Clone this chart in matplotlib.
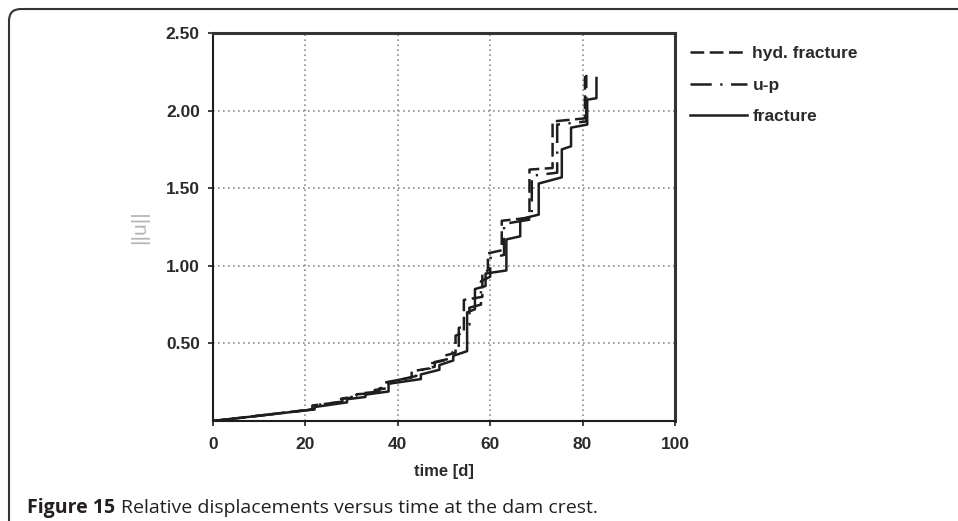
import matplotlib.pyplot as plt
from matplotlib.patches import FancyBboxPatch

# displacement histories at the dam crest, drawn as polylines (t [d], ||u||)
hyd_t = [0, 21.5, 21.5, 27, 27, 30, 30, 35, 35, 37.5, 37.5, 43, 43, 47, 47, 50, 50,
         52.5, 52.5, 54.3, 54.3, 58.3, 58.3, 59.5, 59.5, 62.5, 62.5, 68.5, 68.5,
         73.5, 73.5, 80.5, 80.5]
hyd_u = [0, 0.075, 0.10, 0.12, 0.14, 0.15, 0.17, 0.18, 0.20, 0.21, 0.25, 0.28, 0.32,
         0.34, 0.37, 0.39, 0.42, 0.44, 0.55, 0.57, 0.78, 0.80, 0.95, 0.97, 1.08, 1.10,
         1.29, 1.31, 1.62, 1.63, 1.93, 1.95, 2.25]

up_t = [0, 21.8, 21.8, 28, 28, 31, 31, 36, 36, 38, 38, 44, 44, 48, 48, 51, 51,
        53.2, 53.2, 55.5, 55.5, 58, 58, 60, 60, 63, 63, 69, 69, 74.5, 74.5,
        80.8, 80.8]
up_u = [0, 0.075, 0.10, 0.125, 0.145, 0.16, 0.175, 0.19, 0.21, 0.22, 0.25, 0.29,
        0.32, 0.35, 0.38, 0.40, 0.43, 0.46, 0.60, 0.62, 0.73, 0.75, 0.90, 0.93, 1.05,
        1.07, 1.27, 1.30, 1.58, 1.60, 1.91, 1.93, 2.23]

frac_t = [0, 22, 22, 29, 29, 33, 33, 38, 38, 45, 45, 49, 49, 52, 52, 55, 55, 56.7,
          56.7, 59, 59, 63.5, 63.5, 66.5, 66.5, 70.5, 70.5, 75.5, 75.5, 77.5, 77.5,
          81, 81, 83, 83]
frac_u = [0, 0.075, 0.09, 0.12, 0.14, 0.155, 0.17, 0.19, 0.24, 0.27, 0.30, 0.33,
          0.36, 0.39, 0.42, 0.45, 0.70, 0.72, 0.85, 0.87, 0.95, 0.97, 1.17, 1.19,
          1.30, 1.33, 1.53, 1.57, 1.75, 1.77, 1.89, 1.91, 2.07, 2.08, 2.21]

x_ticks = [0, 20, 40, 60, 80, 100]
y_ticks = [0.5, 1.0, 1.5, 2.0, 2.5]
y_labels = ['0.50', '1.00', '1.50', '2.00', '2.50']

plt.rcParams['font.family'] = ['Liberation Sans', 'DejaVu Sans']
ink = '#1e1e1e'

fig = plt.figure(figsize=(9.58, 5.21), dpi=100)
ax = fig.add_axes([213 / 958, 100 / 521, 462 / 958, 388 / 521])

ax.plot(hyd_t, hyd_u, color=ink, lw=1.8, linestyle=(0, (5.5, 2.2)), label='hyd. fracture')
ax.plot(up_t, up_u, color=ink, lw=1.8, linestyle=(0, (8.5, 3.4, 0.9, 3.4)), label='u-p')
ax.plot(frac_t, frac_u, color=ink, lw=1.8, label='fracture')

ax.set_xlim(0, 100)
ax.set_ylim(0, 2.5)
ax.set_xticks(x_ticks)
ax.set_xticklabels([str(v) for v in x_ticks])
ax.set_yticks(y_ticks)
ax.set_yticklabels(y_labels)
ax.tick_params(direction='out', length=3.5, width=1.2, color=ink, labelsize=12.5,
               labelcolor='#2a2a2a')
ax.tick_params(axis='x', pad=8)
ax.tick_params(axis='y', pad=6)
for lab in ax.get_xticklabels() + ax.get_yticklabels():
    lab.set_fontweight('bold')

# dotted grid, only at inner positions
for v in x_ticks[1:-1]:
    ax.axvline(v, color='#8c8c8c', lw=1.2, linestyle=(0, (1, 2)), zorder=0)
for v in y_ticks[:-1]:
    ax.axhline(v, color='#8c8c8c', lw=1.2, linestyle=(0, (1, 2)), zorder=0)

for side in ['left', 'bottom']:
    ax.spines[side].set_linewidth(1.5)
    ax.spines[side].set_color(ink)
for side in ['top', 'right']:
    ax.spines[side].set_linewidth(2.2)
    ax.spines[side].set_color('#333333')

ax.set_xlabel('time [d]', fontsize=12, fontweight='bold', color='#2a2a2a', labelpad=9)
ax.set_ylabel('||u||', fontsize=15, color='#b4b4b4', labelpad=12)

leg = ax.legend(loc='upper left', bbox_to_anchor=(690 / 958, 475 / 521),
                bbox_transform=fig.transFigure, frameon=False, fontsize=12.5,
                handlelength=3.3, handletextpad=0.3, labelspacing=0.95,
                borderpad=0, borderaxespad=0)
for t in leg.get_texts():
    t.set_fontweight('bold')
    t.set_color('#2a2a2a')

# frame around the figure
frame = FancyBboxPatch((9, -60), 1020, 512 + 60, boxstyle='round,pad=0,rounding_size=12',
                       transform=None, fill=False, edgecolor='#333333', lw=1.5,
                       clip_on=False)
fig.add_artist(frame)

# caption: bold figure number followed by regular text
cap1 = fig.text(27 / 958, 8 / 521, 'Figure 15', fontsize=14, fontweight='bold',
                family='Open Sans', color='#231f20', va='baseline')
fig.canvas.draw()
bb = cap1.get_window_extent()
fig.text((bb.x1 + 6) / 958, 8 / 521, 'Relative displacements versus time at the dam crest.',
         fontsize=14, family='Open Sans', color='#231f20', va='baseline')

fig.savefig('out.png', dpi=100)
